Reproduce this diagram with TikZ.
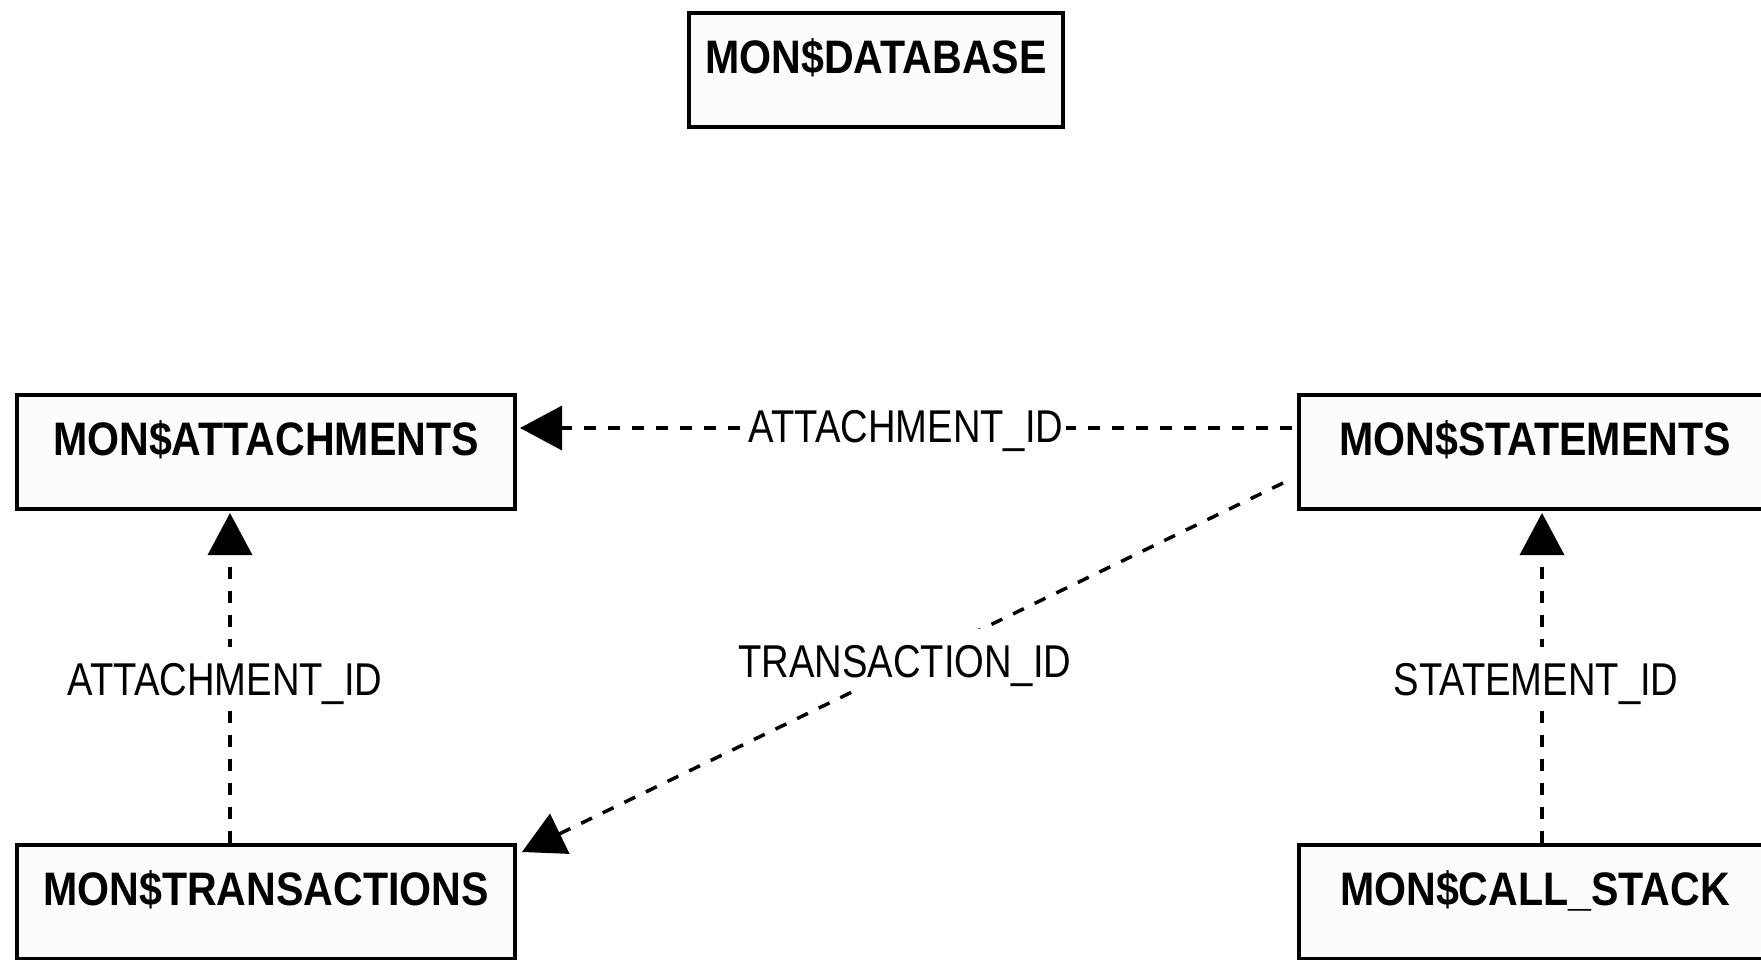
\documentclass[tikz,border=0pt]{standalone}
\usepackage{fontspec}
\setmainfont{Liberation Sans}
\newfontfamily\boxfont[FakeStretch=0.875]{Liberation Sans}
\newfontfamily\lblfont[FakeStretch=0.83]{Liberation Sans}
\usetikzlibrary{arrows.meta,calc}
\definecolor{boxfill}{RGB}{252,252,252}
\tikzset{
  tbl/.style={draw=black, line width=4pt, fill=boxfill, rectangle, anchor=north west,
    inner xsep=0pt, inner ysep=0pt, text height=60pt, text depth=54pt,
    font=\boxfont\bfseries\fontsize{47}{50}\selectfont},
  conn/.style={line width=3.5pt, dash pattern=on 12pt off 12pt,
    -{Triangle[length=42pt,width=44pt]}},
  lbl/.style={fill=white, inner xsep=3pt, inner ysep=14pt, text height=34pt, text depth=0pt,
    font=\lblfont\fontsize{46}{50}\selectfont}
}
\begin{document}
\begin{tikzpicture}[x=1pt,y=-1pt]
\useasboundingbox (0,0) rectangle (1761,959);
\fill[white] (0,0) rectangle (1761,959);
\clip (0,0) rectangle (1761,959);
\node[tbl, minimum width=374pt] (db) at (687,11) {MON\$DATABASE};
\node[tbl, minimum width=498pt] (att) at (15,393) {MON\$ATTACHMENTS};
\node[tbl, minimum width=472pt] (stmt) at (1297,393) {MON\$STATEMENTS};
\node[tbl, minimum width=498pt] (trans) at (15,843) {MON\$TRANSACTIONS};
\node[tbl, minimum width=472pt] (cs) at (1297,843) {MON\$CALL\_STACK};
\draw[conn] ($(stmt.north west)+(-5,35)$) -- ($(att.north east)+(3,35)$)
  node[lbl, midway, yshift=3pt] (l1) {ATTACHMENT\_ID};
\draw[conn] ($(stmt.north west)+(-14,90)$) -- ($(trans.north east)+(5,9)$)
  node[lbl, pos=0.497, yshift=6pt] (l2) {TRANSACTION\_ID};
\draw[conn] ($(trans.north west)+(215,0)$) -- ($(att.south west)+(215,2)$)
  node[lbl, midway, xshift=-5pt] (l3) {ATTACHMENT\_ID};
\draw[conn] ($(cs.north west)+(245,0)$) -- ($(stmt.south west)+(245,2)$)
  node[lbl, midway, xshift=-6pt] (l4) {STATEMENT\_ID};
\end{tikzpicture}
\end{document}
